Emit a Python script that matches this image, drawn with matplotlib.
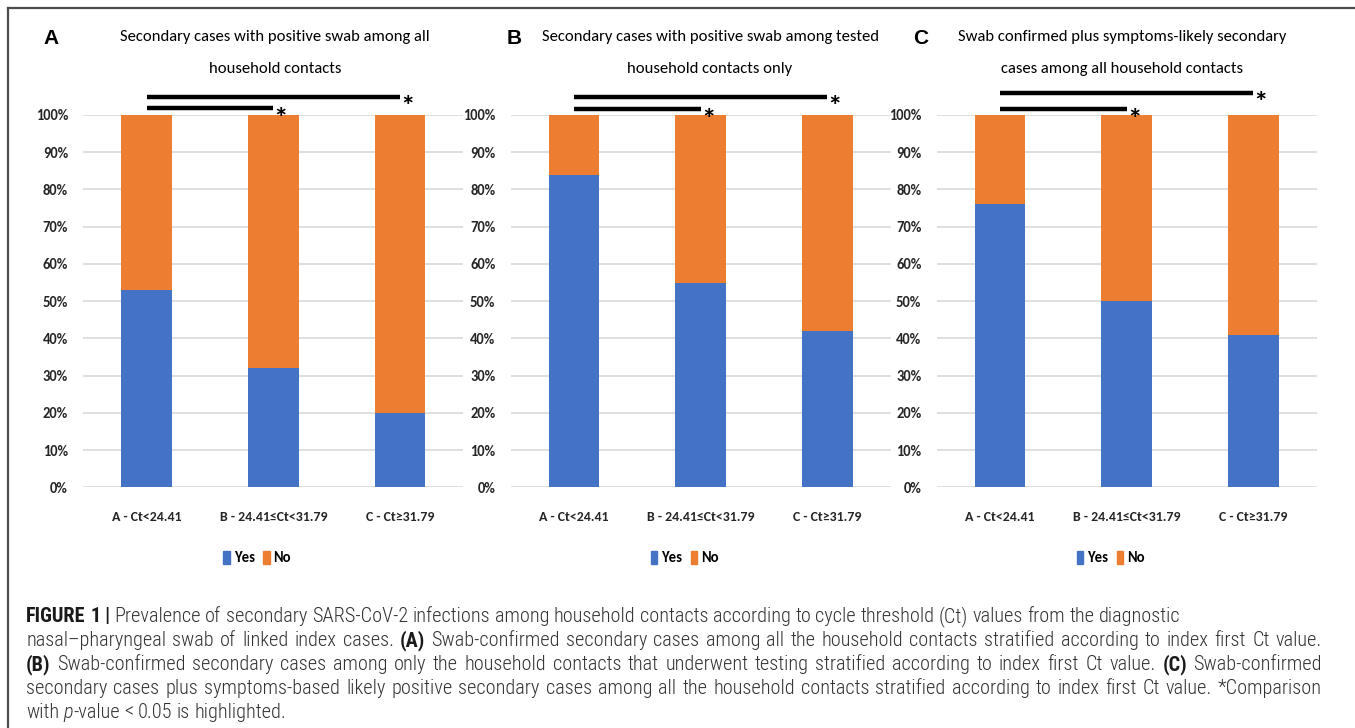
import matplotlib
matplotlib.use('Agg')
import matplotlib.pyplot as plt
from matplotlib.lines import Line2D
from matplotlib.patches import Patch
import numpy

# categories and values (percent of contacts with a secondary case)
categories = ['A - Ct<24.41', 'B - 24.41\u2264Ct<31.79', 'C - Ct\u226531.79']
yes_A = [53, 32, 20]
yes_B = [84, 55, 42]
yes_C = [76, 50, 41]
panel_letters = ['A', 'B', 'C']
panel_titles = [['Secondary cases with positive swab among all', 'household contacts'],
                ['Secondary cases with positive swab among tested', 'household contacts only'],
                ['Swab confirmed plus symptoms-likely secondary', 'cases among all household contacts']]
sig_pairs = [(0, 1), (0, 2)]
legend_labels = ['Yes', 'No']

blue = '#4472C4'
orange = '#ED7D31'
calibri = ['Carlito', 'DejaVu Sans']
capt_font = ['Roboto Condensed', 'DejaVu Sans']

W, H = 1355., 728.
fig = plt.figure(figsize=(13.55, 7.28), dpi=100)

ax_left = [83.3, 510.7, 936.7]
ax_w = 380.
y0, y100 = 487.3, 115.
all_yes = [yes_A, yes_B, yes_C]
sig_heights = [[101.8, 104.9], [101.5, 104.9], [101.5, 106.0]]
title_cx = [275, 710, 1122]

for p in range(3):
    ax = fig.add_axes([ax_left[p]/W, (H-y0)/H, ax_w/W, (y0-y100)/H])
    x = numpy.arange(len(categories))
    yes = numpy.array(all_yes[p])
    no = 100 - yes
    ax.bar(x, yes, width=0.4, color=blue, zorder=3)
    ax.bar(x, no, width=0.4, bottom=yes, color=orange, zorder=3)
    ax.set_xlim(-0.5, 2.5)
    ax.set_ylim(0, 100)
    ax.set_yticks(numpy.arange(0, 101, 10))
    ax.set_yticklabels(['%d%%' % v for v in numpy.arange(0, 101, 10)])
    ax.yaxis.grid(True, color='#D9D9D9', linewidth=1.2, zorder=0)
    ax.set_xticks(x)
    ax.set_xticklabels(categories)
    for s in ax.spines.values():
        s.set_visible(False)
    ax.tick_params(length=0)
    ax.tick_params(axis='y', pad=11)
    ax.tick_params(axis='x', pad=17)
    for lab in ax.get_yticklabels():
        lab.set_family(calibri)
        lab.set_fontweight('bold')
        lab.set_fontsize(10.5)
        lab.set_color('#262626')
    for lab in ax.get_xticklabels():
        lab.set_family(calibri)
        lab.set_fontweight('bold')
        lab.set_fontsize(10)
        lab.set_color('#262626')

    # significance bars
    for (i, j), h in zip(sig_pairs, sig_heights[p]):
        ax.add_line(Line2D([i, j], [h, h], color='black', linewidth=3.2, clip_on=False, solid_capstyle='butt'))
        ax.text(j + 0.06, h - 5.0, '*', fontsize=21, fontweight='bold', ha='center', va='baseline',
                family=calibri, clip_on=False)

    fig.text(title_cx[p]/W, 1 - 37./H, panel_titles[p][0], ha='center', va='center', fontsize=12,
             family=calibri, color='#000000')
    fig.text(title_cx[p]/W, 1 - 69./H, panel_titles[p][1], ha='center', va='center', fontsize=12,
             family=calibri, color='#000000')

    fig.legend(handles=[Patch(color=blue, label=legend_labels[0]), Patch(color=orange, label=legend_labels[1])],
               loc='center', bbox_to_anchor=((ax_left[p] + ax_w/2. - 16)/W, 1 - 558./H),
               ncol=2, frameon=False, handlelength=0.45, handleheight=1.0,
               handletextpad=0.25, columnspacing=0.6,
               prop={'family': calibri, 'weight': 'bold', 'size': 10.5})

letter_x = [51, 514, 921]
for p in range(3):
    fig.text(letter_x[p]/W, 1 - 38./H, panel_letters[p], ha='center', va='center',
             fontsize=15, fontweight='bold', family='Liberation Sans')

# frame of the figure panel
fig.add_artist(Line2D([8/W, 1.0], [1 - 8/H, 1 - 8/H], color='#4d4d4d', linewidth=1.6))
fig.add_artist(Line2D([8/W, 8/W], [1 - 8/H, 0], color='#4d4d4d', linewidth=1.6))

# caption, drawn word by word so bold/italic parts sit inline and lines can be justified
caption = [
    [('FIGURE 1 | ', 'bold', 'normal'),
     ('Prevalence of secondary SARS-CoV-2 infections among household contacts according to cycle threshold (Ct) values from the diagnostic', 'light', 'normal')],
    [('nasal\u2013pharyngeal swab of linked index cases. ', 'light', 'normal'), ('(A)', 'bold', 'normal'),
     (' Swab-confirmed secondary cases among all the household contacts stratified according to index first Ct value.', 'light', 'normal')],
    [('(B)', 'bold', 'normal'),
     (' Swab-confirmed secondary cases among only the household contacts that underwent testing stratified according to index first Ct value. ', 'light', 'normal'),
     ('(C)', 'bold', 'normal'), (' Swab-confirmed', 'light', 'normal')],
    [('secondary cases plus symptoms-based likely positive secondary cases among all the household contacts stratified according to index first Ct value. *Comparison', 'light', 'normal')],
    [('with ', 'light', 'normal'), ('p', 'light', 'italic'), ('-value < 0.05 is highlighted.', 'light', 'normal')],
]
justify = [False, True, True, True, False]
line_y = [617, 641, 665, 689, 712]
x_start, x_end = 26., 1322.
renderer = fig.canvas.get_renderer()


def text_width(s, size, wt='light', st='normal'):
    t = fig.text(0, 0, s, fontsize=size, fontweight=wt, fontstyle=st, family=capt_font)
    w = t.get_window_extent(renderer=renderer).width
    t.remove()
    return w


def tokens_of(segs):
    toks = []
    for txt, wt, st in segs:
        parts = txt.split(' ')
        for k, part in enumerate(parts):
            if k > 0:
                toks.append(None)
            if part:
                toks.append((part, wt, st))
    return toks


def draw_line(segs, ly, size, stretch):
    toks = tokens_of(segs)
    while toks and toks[-1] is None:
        toks.pop()
    sp = text_width('x x', size) - text_width('xx', size)
    widths = [text_width(t[0], size, t[1], t[2]) if t else 0 for t in toks]
    n_sp = sum(1 for t in toks if t is None)
    if stretch and n_sp:
        sp = (x_end - x_start - sum(widths)) / n_sp
    xpos = x_start
    for t, w in zip(toks, widths):
        if t is None:
            xpos += sp
            continue
        col = '#1a1a1a' if t[1] == 'bold' else '#333333'
        fig.text(xpos/W, 1 - ly/H, t[0], ha='left', va='center', fontsize=size,
                 fontweight=t[1], fontstyle=t[2], family=capt_font, color=col)
        xpos += w


# size the caption so the first (unjustified) line ends about where it does in the figure
toks1 = tokens_of(caption[0])
w12 = sum(text_width(t[0], 12, t[1], t[2]) for t in toks1 if t) + \
      sum(1 for t in toks1 if t is None) * (text_width('x x', 12) - text_width('xx', 12))
capt_size = 12 * 1150. / w12
for segs, ly, j in zip(caption, line_y, justify):
    draw_line(segs, ly, capt_size, j)

fig.savefig('out.png', dpi=100)
